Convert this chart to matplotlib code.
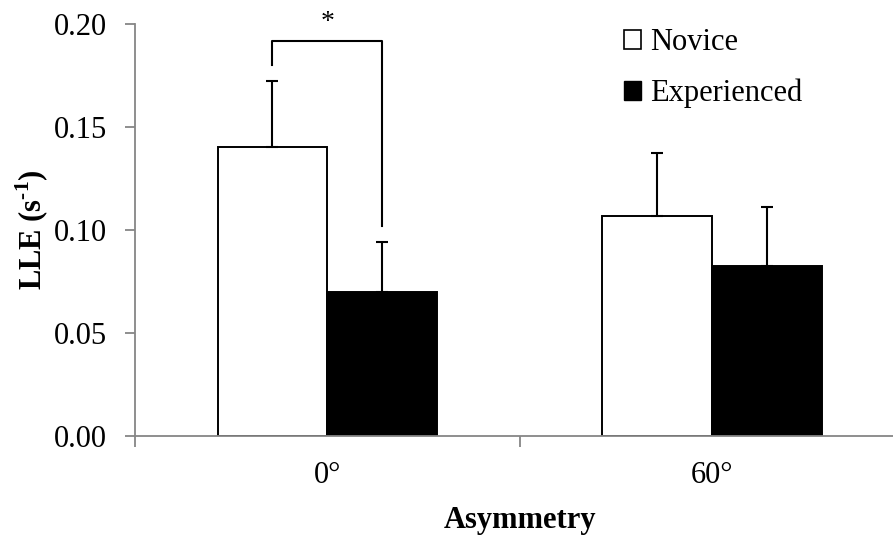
import matplotlib.pyplot as plt
from matplotlib.patches import Patch
import numpy as np

plt.rcParams["font.family"] = ["Liberation Serif", "DejaVu Serif"]
plt.rcParams["mathtext.fontset"] = "custom"
plt.rcParams["mathtext.rm"] = "Liberation Serif"
plt.rcParams["mathtext.bf"] = "Liberation Serif:bold"

categories = ["0°", "60°"]
groups = ["Novice", "Experienced"]
novice_mean = [0.140, 0.1065]
novice_sd = [0.032, 0.0305]
exp_mean = [0.0697, 0.0822]
exp_sd = [0.0243, 0.029]

fig = plt.figure(figsize=(8.93, 5.35), dpi=100)
ax = fig.add_axes([0.1512, 0.1858, 0.862, 0.770])

x = np.arange(len(categories))
w = 0.2857
kw = dict(width=w, edgecolor="black", linewidth=1.4, zorder=2)
ax.bar(x - w / 2, novice_mean, color="white", **kw)
ax.bar(x + w / 2, exp_mean, color="black", **kw)

err_kw = dict(fmt="none", ecolor="black", elinewidth=1.5, capsize=4.5, capthick=1.5, zorder=3)
ax.errorbar(x - w / 2, novice_mean, yerr=[np.zeros(2), novice_sd], **err_kw)
ax.errorbar(x + w / 2, exp_mean, yerr=[np.zeros(2), exp_sd], **err_kw)

# significance bracket between groups at 0 deg
x1, x2 = x[0] - w / 2, x[0] + w / 2
y1 = novice_mean[0] + novice_sd[0] + 0.008
y2 = exp_mean[0] + exp_sd[0] + 0.008
ytop = 0.1916
ax.plot([x1, x1, x2, x2], [y1, ytop, ytop, y2], color="black", lw=1.5, zorder=3)
ax.text((x1 + x2) / 2, 0.2005, "*", ha="center", va="center", fontsize=20)

ax.set_xlim(-0.5, 1.5)
ax.set_ylim(0, 0.20)
ax.set_yticks(np.arange(0, 0.201, 0.05))
ax.set_yticklabels([f"{v:.2f}" for v in np.arange(0, 0.201, 0.05)])
ax.set_xticks(x)
ax.set_xticklabels(categories)
ax.set_xticks([-0.5, 0.5, 1.5], minor=True)
ax.tick_params(axis="x", which="major", length=0, labelsize=22, pad=18)
ax.tick_params(axis="x", which="minor", length=8, width=1.3, color="#868686", direction="out")
ax.tick_params(axis="y", length=7, width=1.3, color="#868686", labelsize=22, pad=13)

for s in ["top", "right"]:
    ax.spines[s].set_visible(False)
for s in ["left", "bottom"]:
    ax.spines[s].set_color("#868686")
    ax.spines[s].set_linewidth(1.3)

ax.set_xlabel("Asymmetry", fontsize=22, fontweight="bold", labelpad=12)
ax.set_ylabel("LLE (s$^{\\mathbf{\\text{-}1}}$)", fontsize=22, fontweight="bold", labelpad=2)

handles = [Patch(facecolor="white", edgecolor="black", linewidth=1.2),
           Patch(facecolor="black", edgecolor="black")]
ax.legend(handles, groups, loc="upper left", bbox_to_anchor=(0.6, 1.055), frameon=False,
          fontsize=22, handlelength=0.55, handleheight=0.55, handletextpad=0.3, labelspacing=0.7)

fig.savefig("out.png", dpi=100)
